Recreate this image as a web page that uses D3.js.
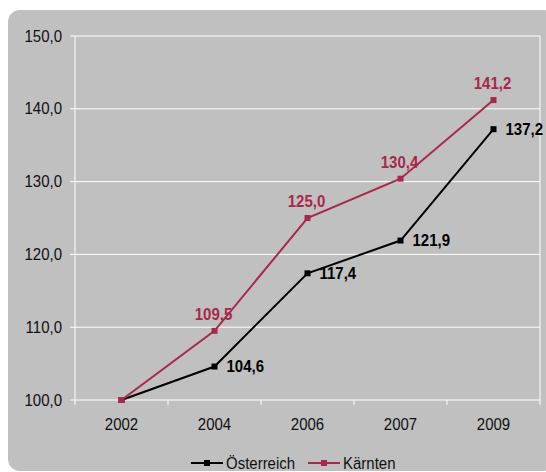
<!DOCTYPE html>
<html>
<head>
<meta charset="utf-8">
<script src="https://cdn.jsdelivr.net/npm/d3@7"></script>
<style>
  html, body { margin: 0; padding: 0; background: #ffffff; }
  svg { display: block; font-family: "Liberation Sans", Arial, sans-serif; }
</style>
</head>
<body>
<svg id="chart" width="546" height="472"></svg>
<script>
// Index values (2002 = 100)
const years = ["2002", "2004", "2006", "2007", "2009"];
const oesterreich = [100.0, 104.6, 117.4, 121.9, 137.2];
const kaernten = [100.0, 109.5, 125.0, 130.4, 141.2];
const yTicks = [100, 110, 120, 130, 140, 150];
const seriesNames = ["Österreich", "Kärnten"];
const seriesColors = ["#000000", "#a8284b"];

const svg = d3.select("#chart");
const fmt = v => v.toFixed(1).replace(".", ",");
const FS = 15;
const STRETCH = 1.1; // slightly tall glyphs

// Places text at (px, py) with a vertical stretch about its baseline
const place = (px, py) => `translate(${px},${py}) scale(1,${STRETCH})`;

// Chart panel
svg.append("rect")
  .attr("x", 8).attr("y", 10)
  .attr("width", 548).attr("height", 461)
  .attr("rx", 12).attr("ry", 12)
  .attr("fill", "#c0c0c0");

const plot = { left: 75, right: 540, top: 36, bottom: 400 };

const x = d3.scaleBand().domain(years).range([plot.left, plot.right]).padding(0);
const y = d3.scaleLinear().domain([100, 150]).range([plot.bottom, plot.top]);

// Gridlines
svg.append("g")
  .selectAll("line")
  .data(yTicks)
  .join("line")
  .attr("x1", plot.left - 5).attr("x2", plot.right)
  .attr("y1", d => y(d)).attr("y2", d => y(d))
  .attr("stroke", "#ffffff").attr("stroke-width", 1);

// Plot border (left and right)
svg.append("line")
  .attr("x1", plot.left).attr("x2", plot.left)
  .attr("y1", plot.top).attr("y2", plot.bottom)
  .attr("stroke", "#ffffff");
svg.append("line")
  .attr("x1", plot.right).attr("x2", plot.right)
  .attr("y1", plot.top).attr("y2", plot.bottom)
  .attr("stroke", "#ffffff");

// Y axis labels
svg.append("g")
  .selectAll("text")
  .data(yTicks)
  .join("text")
  .attr("transform", d => place(plot.left - 13, y(d) + 5.5))
  .attr("text-anchor", "end")
  .attr("font-size", FS)
  .attr("fill", "#111111")
  .text(d => fmt(d));

// X axis ticks at band boundaries
const bounds = years.map(d => x(d)).concat([x(years[years.length - 1]) + x.bandwidth()]);
svg.append("g")
  .selectAll("line")
  .data(bounds)
  .join("line")
  .attr("x1", d => d).attr("x2", d => d)
  .attr("y1", plot.bottom).attr("y2", plot.bottom + 5)
  .attr("stroke", "#ffffff");

svg.append("g")
  .selectAll("text")
  .data(years)
  .join("text")
  .attr("transform", d => place(x(d) + x.bandwidth() / 2, plot.bottom + 30))
  .attr("text-anchor", "middle")
  .attr("font-size", FS)
  .attr("fill", "#111111")
  .text(d => d);

const cx = d => x(d) + x.bandwidth() / 2;

function drawSeries(values, color) {
  const pts = years.map((yr, i) => [cx(yr), y(values[i])]);
  svg.append("path")
    .attr("d", d3.line()(pts))
    .attr("fill", "none")
    .attr("stroke", color)
    .attr("stroke-width", 2);
  svg.append("g")
    .selectAll("rect")
    .data(pts)
    .join("rect")
    .attr("x", d => d[0] - 3).attr("y", d => d[1] - 3)
    .attr("width", 6).attr("height", 6)
    .attr("fill", color);
}

drawSeries(oesterreich, seriesColors[0]);
drawSeries(kaernten, seriesColors[1]);

// Value labels: Österreich right of points, Kärnten above points
svg.append("g")
  .selectAll("text")
  .data(oesterreich.map((v, i) => ({ v, yr: years[i] })).slice(1))
  .join("text")
  .attr("transform", d => place(cx(d.yr) + 12, y(d.v) + 5.5))
  .attr("font-size", FS)
  .attr("font-weight", "bold")
  .attr("fill", seriesColors[0])
  .text(d => fmt(d.v));

svg.append("g")
  .selectAll("text")
  .data(kaernten.map((v, i) => ({ v, yr: years[i] })).slice(1))
  .join("text")
  .attr("transform", d => place(cx(d.yr) - 1, y(d.v) - 11))
  .attr("text-anchor", "middle")
  .attr("font-size", FS)
  .attr("font-weight", "bold")
  .attr("fill", seriesColors[1])
  .text(d => fmt(d.v));

// Legend
const legendItems = [
  { name: seriesNames[0], color: seriesColors[0], x: 191 },
  { name: seriesNames[1], color: seriesColors[1], x: 308 }
];
const legendY = 463;
const lg = svg.append("g");
legendItems.forEach(it => {
  lg.append("line")
    .attr("x1", it.x).attr("x2", it.x + 32)
    .attr("y1", legendY).attr("y2", legendY)
    .attr("stroke", it.color).attr("stroke-width", 2);
  lg.append("rect")
    .attr("x", it.x + 13).attr("y", legendY - 3)
    .attr("width", 6).attr("height", 6)
    .attr("fill", it.color);
  lg.append("text")
    .attr("transform", place(it.x + 35, legendY + 5.5))
    .attr("font-size", FS)
    .attr("fill", "#111111")
    .text(it.name);
});
</script>
</body>
</html>
